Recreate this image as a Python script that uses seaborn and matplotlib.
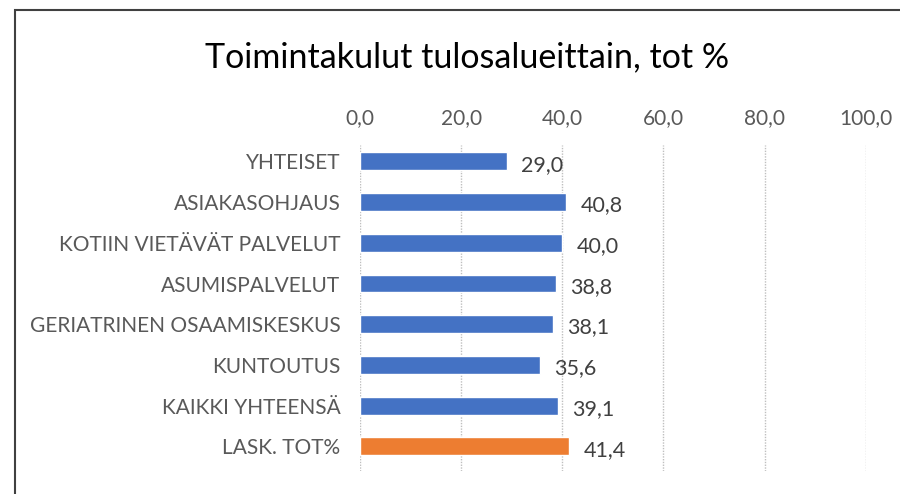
import numpy as np
import pandas as pd
import matplotlib
matplotlib.use("Agg")
import matplotlib.pyplot as plt
import seaborn as sns
from matplotlib.patches import Rectangle

# Daten aus dem Diagramm
kategoriat = ["YHTEISET", "ASIAKASOHJAUS", "KOTIIN VIETÄVÄT PALVELUT",
              "ASUMISPALVELUT", "GERIATRINEN OSAAMISKESKUS", "KUNTOUTUS",
              "KAIKKI YHTEENSÄ", "LASK. TOT%"]
arvot = [29.0, 40.8, 40.0, 38.8, 38.1, 35.6, 39.1, 41.4]
varit = ["#4472C4"] * 7 + ["#ED7D31"]
x_ticks = [0, 20, 40, 60, 80, 100]

sns.set_theme(style="white")
plt.rcParams["font.family"] = ["Lato", "DejaVu Sans"]

df = pd.DataFrame({"kategoria": kategoriat, "arvo": arvot})

fig = plt.figure(figsize=(9, 4.94), dpi=100)
ax = fig.add_axes([0.4, 0.047, 0.562, 0.66])

sns.barplot(data=df, x="arvo", y="kategoria", hue="kategoria",
            palette=varit, legend=False, width=0.44, ax=ax,
            saturation=1, zorder=3)

ax.set_xlim(0, 100)
ax.set_ylim(7.6, -0.41)
ax.set_xticks(x_ticks)
ax.set_xticklabels([f"{t:.1f}".replace(".", ",") for t in x_ticks],
                   fontsize=15, color="#595959")
ax.xaxis.tick_top()
ax.tick_params(axis="x", length=0, pad=12)
ax.tick_params(axis="y", length=0, pad=14, labelsize=15, labelcolor="#595959")
ax.set_xlabel("")
ax.set_ylabel("")
for s in ax.spines.values():
    s.set_visible(False)
ax.grid(axis="x", color="#bfbfbf", linestyle=(0, (1, 1)), linewidth=1, zorder=0)

# Datenbeschriftungen
for i, v in enumerate(arvot):
    ax.text(v + 2.8, i + 0.08, f"{v:.1f}".replace(".", ","), va="center",
            ha="left", fontsize=15.5, color="#404040")

fig.text(0.519, 0.885, "Toimintakulut tulosalueittain, tot %", ha="center",
         va="center", fontsize=24.5, color="#000000")

# Rahmen
fig.patches.append(Rectangle((15 / 900, -0.1), 1.2, 1 - 10 / 494 + 0.1,
                             transform=fig.transFigure, fill=False,
                             edgecolor="#404040", linewidth=1.5))

fig.savefig("out.png", dpi=100, facecolor="white")
